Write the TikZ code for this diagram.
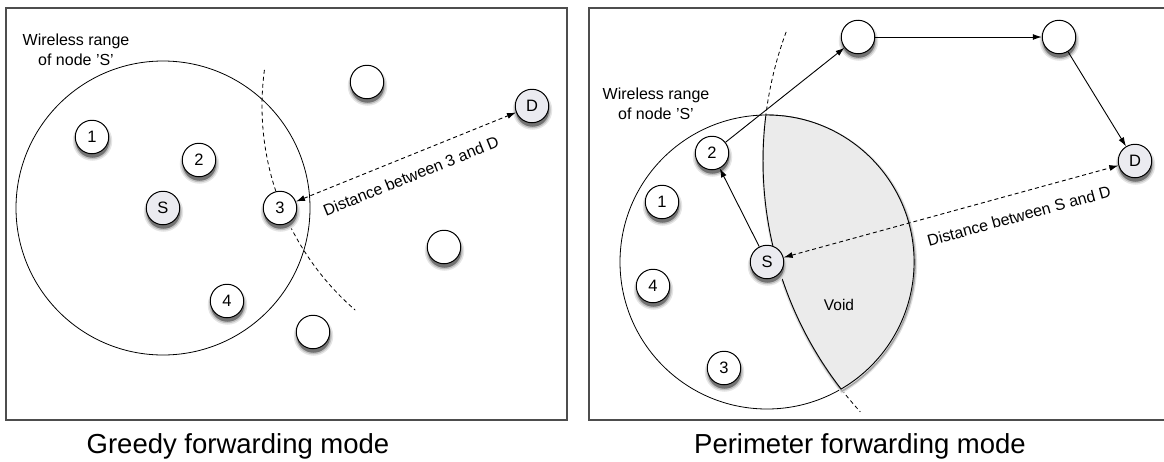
\documentclass[tikz,border=0pt]{standalone}
\usepackage{fontspec}
\setmainfont{Liberation Sans}
\usetikzlibrary{arrows.meta}
\definecolor{endfill}{HTML}{EBEBF0}
\definecolor{voidfill}{HTML}{EBEBEB}
\definecolor{panelline}{HTML}{4D4D4D}
\begin{document}
\begin{tikzpicture}[x=1pt,y=-1pt,
  panel/.style={draw=panelline, line width=1.3pt},
  softshadow/.style={
    preaction={draw=black!10, line width=6pt, transform canvas={xshift=0.5pt,yshift=-4pt}},
    preaction={draw=black!25, line width=3pt, transform canvas={xshift=0.5pt,yshift=-4pt}},
    preaction={fill=black!55, transform canvas={xshift=0.5pt,yshift=-4pt}}},
  nd/.style={circle, draw=black, line width=1pt, minimum size=33.5pt, inner sep=0pt, fill=white,
    font=\fontsize{16.5}{16.5}\selectfont, softshadow},
  ep/.style={nd, fill=endfill},
  wrange/.style={draw=black, line width=0.8pt},
  guide/.style={draw=black, line width=0.8pt, dash pattern=on 4pt off 3pt},
  link/.style={draw=black, line width=0.9pt, -{Latex[length=9pt,width=6pt]}},
  dist/.style={draw=black, line width=0.9pt, dash pattern=on 4pt off 3pt,
    {Latex[length=9pt,width=6pt]}-{Latex[length=9pt,width=6pt]}},
  lbl/.style={font=\fontsize{16}{20}\selectfont, inner sep=0pt, align=center},
  captionlbl/.style={font=\fontsize{27.5}{30}\selectfont, inner sep=0pt, anchor=base},
  voidarea/.style={draw=black, line width=0.9pt, fill=voidfill,
    preaction={draw=black!12, line width=4pt, transform canvas={xshift=1pt,yshift=-2pt}},
    preaction={draw=black!35, line width=1.5pt, transform canvas={xshift=1pt,yshift=-2pt}}}
]
\useasboundingbox (0,0) rectangle (1164,461);

% ---------------- left panel: greedy ----------------
\draw[panel] (6,8) rectangle (567,420);
\coordinate (lc) at (163,208);
\coordinate (lDc) at (532,106);
\draw[wrange] (lc) circle[radius=147];
\draw[guide] (lDc) ++(187.7:270) arc[start angle=187.7, end angle=130.9, radius=270];

\node[nd] (l1) at (92,137) {1};
\node[nd] (l2) at (199,160) {2};
\node[ep] (lS) at (lc) {S};
\node[nd] (l3) at (280,208) {3};
\node[nd] (l4) at (227,301) {4};
\node[nd] (la) at (367,82) {};
\node[nd] (lb) at (444,247) {};
\node[nd] (lcc) at (313,332) {};
\node[ep] (lD) at (lDc) {D};

\draw[dist] (l3) -- (lD);
\node[lbl, rotate=22.04] (ldl) at (411,176) {Distance between 3 and D};
\node[lbl] (lrange) at (76,50) {Wireless range\\of node 'S'};
\node[captionlbl] (lcap) at (238,453) {Greedy forwarding mode};

% ---------------- right panel: perimeter ----------------
\draw[panel] (589,8) rectangle (1165,420);
\coordinate (rc) at (767,262);
\coordinate (rDc) at (1135,161);
\draw[wrange] (rc) circle[radius=147];
\draw[guide] (rDc) ++(200.3:372) arc[start angle=200.3, end angle=137.6, radius=372];
\path[voidarea] (841.1,389.0) arc[start angle=142.2, end angle=187.1, radius=372]
  arc[start angle=-90.47, end angle=59.73, radius=147] -- cycle;
\node[lbl, font=\fontsize{15.5}{15.5}\selectfont] (void) at (839,305) {Void};

\node[nd] (r1) at (662,202) {1};
\node[nd] (r2) at (712,153) {2};
\node[ep] (rS) at (rc) {S};
\node[nd] (r4) at (653,286) {4};
\node[nd] (r3) at (724,368) {3};
\node[nd] (rp) at (858,37) {};
\node[nd] (rq) at (1059,37) {};
\node[ep] (rD) at (rDc) {D};

\draw[link] (rS) -- (r2);
\draw[link] (r2) -- (rp);
\draw[link] (rp) -- (rq);
\draw[link] (rq) -- (rD);
\draw[dist] (rS) -- (rD);
\node[lbl, rotate=15.35] (rdl) at (1019,216) {Distance between S and D};
\node[lbl] (rrange) at (656,104) {Wireless range\\of node 'S'};
\node[captionlbl] (rcap) at (860,453) {Perimeter forwarding mode};
\end{tikzpicture}
\end{document}
